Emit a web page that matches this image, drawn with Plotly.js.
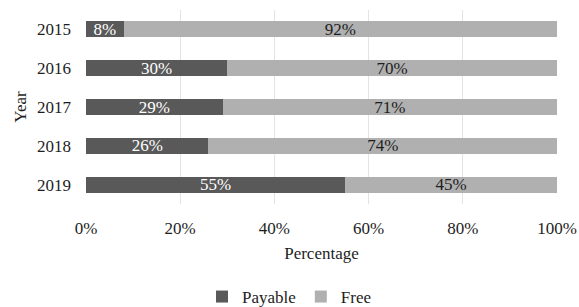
<!DOCTYPE html>
<html><head><meta charset="utf-8">
<script src="https://cdn.plot.ly/plotly-3.0.1.min.js"></script>
<style>html,body{margin:0;padding:0;background:#fff}#c{width:579px;height:307px}</style>
</head><body><div id="c"></div>
<script>
const years = ['2015','2016','2017','2018','2019'];
const payable = [8, 30, 29, 26, 55];
const free = [92, 70, 71, 74, 45];
const xTicks = [0, 20, 40, 60, 80, 100];

const fam = '"Liberation Serif", "Times New Roman", serif';
const font = {family: fam, size: 17, color: '#1e1e1e'};
const traces = [
  {type:'bar', orientation:'h', name:'Payable', y: years, x: payable,
   marker:{color:'#595959'}, text: payable.map(v=>v+'%'), textposition:'inside',
   insidetextanchor:'middle', textfont:{family:fam, size:17, color:'#ffffff'},
   hoverinfo:'none'},
  {type:'bar', orientation:'h', name:'Free', y: years, x: free,
   marker:{color:'#b0b0b0'}, text: free.map(v=>v+'%'), textposition:'inside',
   insidetextanchor:'middle', textfont:{family:fam, size:17, color:'#1e1e1e'},
   hoverinfo:'none'}
];
const layout = {
  width:579, height:307, barmode:'stack', bargap:0.59,
  margin:{l:86, r:22, t:10, b:103, autoexpand:false},
  font: font, paper_bgcolor:'#fff', plot_bgcolor:'#fff',
  showlegend:true,
  legend:{orientation:'h', x:0.5, xanchor:'center', xref:'container',
          y:10/307, yanchor:'middle', yref:'container',
          font:{family:fam, size:17, color:'#1e1e1e'}, traceorder:'normal', itemwidth:30},
  uniformtext:{mode:'show', minsize:10},
  xaxis:{range:[0,100], tickvals:xTicks, ticktext:xTicks.map(v=>v+'%'),
         showgrid:true, gridcolor:'#e3e3e3', gridwidth:1, zeroline:false,
         showline:false, ticks:'', ticklabelstandoff:12,
         title:{text:'Percentage', font:{family:fam, size:17, color:'#1e1e1e'}, standoff:10}},
  yaxis:{autorange:'reversed', showgrid:false, zeroline:false, showline:false,
         ticks:'', ticklabelstandoff:14, type:'category',
         title:{text:'Year', font:{family:fam, size:17, color:'#1e1e1e'}, standoff:6}}
};
Plotly.newPlot('c', traces, layout, {staticPlot:true, displayModeBar:false});
</script></body></html>
